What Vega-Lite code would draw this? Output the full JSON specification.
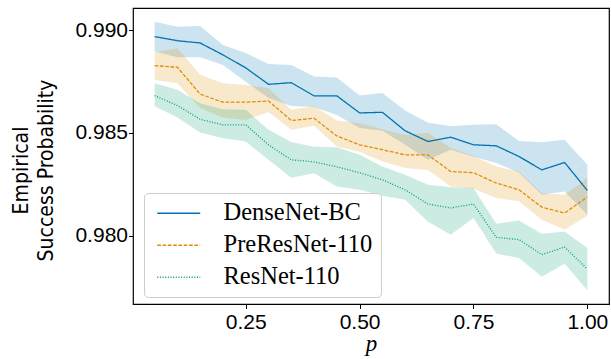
{
  "$schema": "https://vega.github.io/schema/vega-lite/v6.json",
  "width": 476,
  "height": 296,
  "autosize": {"type": "none"},
  "padding": {"left": 133, "top": 8, "right": 2, "bottom": 55},
  "background": "white",
  "config": {
    "view": {"stroke": "black", "strokeWidth": 1.2},
    "axis": {
      "labelFont": "Liberation Sans",
      "labelFontSize": 21,
      "labelColor": "black",
      "tickColor": "black",
      "tickSize": 4.5,
      "tickWidth": 1,
      "domain": false,
      "grid": false,
      "titleColor": "black",
      "titleFontWeight": "normal"
    }
  },
  "resolve": {"legend": {"fill": "independent", "color": "independent", "strokeDash": "independent"}},
  "data": {
    "values": [
      {"p": 0.05, "model": "DenseNet-BC", "m": 0.98968, "lo": 0.98895, "hi": 0.99040},
      {"p": 0.10, "model": "DenseNet-BC", "m": 0.98948, "lo": 0.98867, "hi": 0.99016},
      {"p": 0.15, "model": "DenseNet-BC", "m": 0.98937, "lo": 0.98867, "hi": 0.99019},
      {"p": 0.20, "model": "DenseNet-BC", "m": 0.98879, "lo": 0.98830, "hi": 0.98927},
      {"p": 0.25, "model": "DenseNet-BC", "m": 0.98816, "lo": 0.98748, "hi": 0.98888},
      {"p": 0.30, "model": "DenseNet-BC", "m": 0.98736, "lo": 0.98670, "hi": 0.98835},
      {"p": 0.35, "model": "DenseNet-BC", "m": 0.98744, "lo": 0.98631, "hi": 0.98830},
      {"p": 0.40, "model": "DenseNet-BC", "m": 0.98680, "lo": 0.98626, "hi": 0.98774},
      {"p": 0.45, "model": "DenseNet-BC", "m": 0.98680, "lo": 0.98587, "hi": 0.98769},
      {"p": 0.50, "model": "DenseNet-BC", "m": 0.98597, "lo": 0.98524, "hi": 0.98682},
      {"p": 0.55, "model": "DenseNet-BC", "m": 0.98600, "lo": 0.98510, "hi": 0.98694},
      {"p": 0.60, "model": "DenseNet-BC", "m": 0.98510, "lo": 0.98442, "hi": 0.98609},
      {"p": 0.65, "model": "DenseNet-BC", "m": 0.98458, "lo": 0.98369, "hi": 0.98549},
      {"p": 0.70, "model": "DenseNet-BC", "m": 0.98479, "lo": 0.98418, "hi": 0.98533},
      {"p": 0.75, "model": "DenseNet-BC", "m": 0.98442, "lo": 0.98384, "hi": 0.98539},
      {"p": 0.80, "model": "DenseNet-BC", "m": 0.98437, "lo": 0.98354, "hi": 0.98542},
      {"p": 0.85, "model": "DenseNet-BC", "m": 0.98385, "lo": 0.98306, "hi": 0.98460},
      {"p": 0.90, "model": "DenseNet-BC", "m": 0.98320, "lo": 0.98199, "hi": 0.98454},
      {"p": 0.95, "model": "DenseNet-BC", "m": 0.98356, "lo": 0.98215, "hi": 0.98466},
      {"p": 1.00, "model": "DenseNet-BC", "m": 0.98220, "lo": 0.98102, "hi": 0.98345},
      {"p": 0.05, "model": "PreResNet-110", "m": 0.98827, "lo": 0.98757, "hi": 0.98892},
      {"p": 0.10, "model": "PreResNet-110", "m": 0.98819, "lo": 0.98741, "hi": 0.98911},
      {"p": 0.15, "model": "PreResNet-110", "m": 0.98688, "lo": 0.98621, "hi": 0.98782},
      {"p": 0.20, "model": "PreResNet-110", "m": 0.98649, "lo": 0.98573, "hi": 0.98741},
      {"p": 0.25, "model": "PreResNet-110", "m": 0.98649, "lo": 0.98563, "hi": 0.98733},
      {"p": 0.30, "model": "PreResNet-110", "m": 0.98655, "lo": 0.98602, "hi": 0.98717},
      {"p": 0.35, "model": "PreResNet-110", "m": 0.98560, "lo": 0.98515, "hi": 0.98612},
      {"p": 0.40, "model": "PreResNet-110", "m": 0.98571, "lo": 0.98534, "hi": 0.98631},
      {"p": 0.45, "model": "PreResNet-110", "m": 0.98485, "lo": 0.98434, "hi": 0.98560},
      {"p": 0.50, "model": "PreResNet-110", "m": 0.98442, "lo": 0.98408, "hi": 0.98547},
      {"p": 0.55, "model": "PreResNet-110", "m": 0.98418, "lo": 0.98361, "hi": 0.98518},
      {"p": 0.60, "model": "PreResNet-110", "m": 0.98393, "lo": 0.98329, "hi": 0.98490},
      {"p": 0.65, "model": "PreResNet-110", "m": 0.98393, "lo": 0.98320, "hi": 0.98500},
      {"p": 0.70, "model": "PreResNet-110", "m": 0.98312, "lo": 0.98239, "hi": 0.98426},
      {"p": 0.75, "model": "PreResNet-110", "m": 0.98306, "lo": 0.98228, "hi": 0.98388},
      {"p": 0.80, "model": "PreResNet-110", "m": 0.98256, "lo": 0.98183, "hi": 0.98336},
      {"p": 0.85, "model": "PreResNet-110", "m": 0.98223, "lo": 0.98167, "hi": 0.98312},
      {"p": 0.90, "model": "PreResNet-110", "m": 0.98139, "lo": 0.98078, "hi": 0.98207},
      {"p": 0.95, "model": "PreResNet-110", "m": 0.98110, "lo": 0.98029, "hi": 0.98199},
      {"p": 1.00, "model": "PreResNet-110", "m": 0.98188, "lo": 0.98097, "hi": 0.98280},
      {"p": 0.05, "model": "ResNet-110", "m": 0.98681, "lo": 0.98629, "hi": 0.98741},
      {"p": 0.10, "model": "ResNet-110", "m": 0.98633, "lo": 0.98575, "hi": 0.98709},
      {"p": 0.15, "model": "ResNet-110", "m": 0.98566, "lo": 0.98502, "hi": 0.98644},
      {"p": 0.20, "model": "ResNet-110", "m": 0.98539, "lo": 0.98474, "hi": 0.98615},
      {"p": 0.25, "model": "ResNet-110", "m": 0.98539, "lo": 0.98458, "hi": 0.98612},
      {"p": 0.30, "model": "ResNet-110", "m": 0.98442, "lo": 0.98369, "hi": 0.98515},
      {"p": 0.35, "model": "ResNet-110", "m": 0.98369, "lo": 0.98282, "hi": 0.98456},
      {"p": 0.40, "model": "ResNet-110", "m": 0.98359, "lo": 0.98304, "hi": 0.98432},
      {"p": 0.45, "model": "ResNet-110", "m": 0.98335, "lo": 0.98239, "hi": 0.98430},
      {"p": 0.50, "model": "ResNet-110", "m": 0.98306, "lo": 0.98223, "hi": 0.98393},
      {"p": 0.55, "model": "ResNet-110", "m": 0.98272, "lo": 0.98194, "hi": 0.98336},
      {"p": 0.60, "model": "ResNet-110", "m": 0.98223, "lo": 0.98175, "hi": 0.98296},
      {"p": 0.65, "model": "ResNet-110", "m": 0.98154, "lo": 0.98068, "hi": 0.98248},
      {"p": 0.70, "model": "ResNet-110", "m": 0.98135, "lo": 0.98005, "hi": 0.98236},
      {"p": 0.75, "model": "ResNet-110", "m": 0.98154, "lo": 0.98086, "hi": 0.98232},
      {"p": 0.80, "model": "ResNet-110", "m": 0.97992, "lo": 0.97913, "hi": 0.98058},
      {"p": 0.85, "model": "ResNet-110", "m": 0.97981, "lo": 0.97892, "hi": 0.98074},
      {"p": 0.90, "model": "ResNet-110", "m": 0.97908, "lo": 0.97800, "hi": 0.98010},
      {"p": 0.95, "model": "ResNet-110", "m": 0.97945, "lo": 0.97864, "hi": 0.98021},
      {"p": 1.00, "model": "ResNet-110", "m": 0.97838, "lo": 0.97735, "hi": 0.97940}
    ]
  },
  "encoding": {
    "x": {
      "field": "p",
      "type": "quantitative",
      "scale": {"domain": [0.0025, 1.0475], "nice": false, "zero": false},
      "axis": {
        "values": [0.25, 0.5, 0.75, 1.0],
        "format": ".2f",
        "labelPadding": 3,
        "title": "p",
        "titleFont": "Liberation Serif",
        "titleFontStyle": "italic",
        "titleFontSize": 23,
        "titlePadding": 0
      }
    }
  },
  "layer": [
    {
      "mark": {"type": "area", "fillOpacity": 0.2, "strokeWidth": 0},
      "encoding": {
        "y": {
          "field": "lo",
          "type": "quantitative",
          "scale": {"domain": [0.97668, 0.99107], "nice": false, "zero": false},
          "axis": {
            "values": [0.98, 0.985, 0.99],
            "format": ".3f",
            "labelPadding": 1,
            "title": ["Empirical", "Success Probability"],
            "titleFont": "DejaVu Sans Condensed, Liberation Sans",
            "titleFontSize": 21,
            "titleLineHeight": 25,
            "titlePadding": 18,
            "titleY": 162
          }
        },
        "y2": {"field": "hi"},
        "fill": {
          "field": "model",
          "type": "nominal",
          "scale": {"domain": ["DenseNet-BC", "PreResNet-110", "ResNet-110"], "range": ["#0173b2", "#de8f05", "#029e73"]},
          "legend": null
        }
      }
    },
    {
      "mark": {"type": "line", "strokeWidth": 1.3},
      "encoding": {
        "y": {"field": "m", "type": "quantitative"},
        "color": {
          "field": "model",
          "type": "nominal",
          "scale": {"domain": ["DenseNet-BC", "PreResNet-110", "ResNet-110"], "range": ["#0173b2", "#de8f05", "#029e73"]},
          "legend": {
            "title": null,
            "orient": "none",
            "legendX": 11,
            "legendY": 185,
            "labelFont": "Liberation Serif",
            "labelFontSize": 24.5,
            "labelColor": "black",
            "symbolType": "M-1,0H5.14",
            "symbolSize": 196,
            "symbolStrokeWidth": 1.5,
            "strokeColor": "#cccccc",
            "fillColor": "rgba(255,255,255,0.8)",
            "cornerRadius": 4,
            "padding": 8,
            "rowPadding": 7,
            "labelOffset": 47
          }
        },
        "strokeDash": {
          "field": "model",
          "type": "nominal",
          "scale": {"domain": ["DenseNet-BC", "PreResNet-110", "ResNet-110"], "range": [[1, 0], [3.7, 1.6], [1, 1.65]]},
          "legend": {
            "title": null,
            "orient": "none",
            "legendX": 11,
            "legendY": 185,
            "labelFont": "Liberation Serif",
            "labelFontSize": 24.5,
            "labelColor": "black",
            "symbolType": "M-1,0H5.14",
            "symbolSize": 196,
            "symbolStrokeWidth": 1.5,
            "strokeColor": "#cccccc",
            "fillColor": "rgba(255,255,255,0.8)",
            "cornerRadius": 4,
            "padding": 8,
            "rowPadding": 7,
            "labelOffset": 47
          }
        }
      }
    }
  ]
}
